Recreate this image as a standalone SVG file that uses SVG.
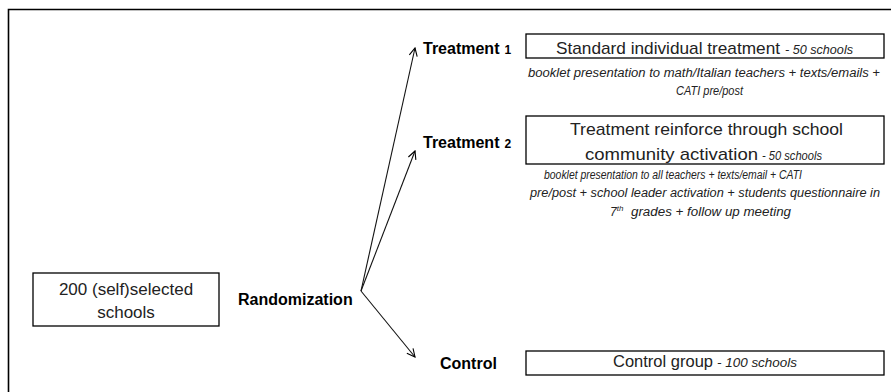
<svg xmlns="http://www.w3.org/2000/svg" width="891" height="392" viewBox="0 0 891 392">
  <defs>
    <marker id="open-arrow" viewBox="0 0 10 10" refX="9" refY="5" markerWidth="10" markerHeight="10" markerUnits="userSpaceOnUse" orient="auto">
      <path d="M1,1 L9,5 L1,9" fill="none" stroke="#000" stroke-width="1.1"/>
    </marker>
    <style>
      .frame { fill: none; stroke: #000; stroke-width: 1.6; }
      .box { fill: #fff; stroke: #000; stroke-width: 1.3; }
      .main { font-family: "Liberation Sans", Arial, sans-serif; font-size: 17px; fill: #222; }
      .label { font-family: "Liberation Sans", Arial, sans-serif; font-size: 16px; font-weight: bold; fill: #000; }
      .num { font-family: "Liberation Sans", Arial, sans-serif; font-size: 12px; fill: #000; }
      .note { font-family: "Liberation Sans", Arial, sans-serif; font-size: 12px; font-style: italic; fill: #222; }
      .conn { fill: none; stroke: #111; stroke-width: 1.1; marker-end: url(#open-arrow); }
    </style>
  </defs>

  <rect width="891" height="392" fill="#fff"/>

  <!-- outer frame: top and left edges -->
  <path class="frame" d="M8.5,392 L8.5,9.5 L891,9.5"/>

  <!-- source -->
  <g id="schools">
    <rect class="box" x="33" y="273" width="186" height="53"/>
    <text class="main" x="126" y="295" text-anchor="middle">200 (self)selected</text>
    <text class="main" x="126" y="318" text-anchor="middle">schools</text>
  </g>

  <g id="randomization">
    <text class="label" x="238" y="305">Randomization</text>
  </g>

  <!-- connectors -->
  <g id="connectors">
    <path class="conn" d="M361,291 L415,48"/>
    <path class="conn" d="M361,291 L415,151"/>
    <path class="conn" d="M361,291 L415,357"/>
  </g>

  <g id="treatment1">
    <text class="label" x="423" y="54">Treatment<tspan class="num" dx="5">1</tspan></text>
    <rect class="box" x="526" y="34" width="358" height="24"/>
    <text class="main" x="556" y="54" textLength="224" lengthAdjust="spacingAndGlyphs">Standard individual treatment</text>
    <text class="note" x="785" y="54" textLength="68" lengthAdjust="spacingAndGlyphs">- 50 schools</text>
    <text class="note" x="528" y="77" textLength="352" lengthAdjust="spacingAndGlyphs">booklet presentation to math/Italian teachers + texts/emails +</text>
    <text class="note" x="676" y="95" textLength="67" lengthAdjust="spacingAndGlyphs">CATI pre/post</text>
  </g>

  <g id="treatment2">
    <text class="label" x="423" y="148">Treatment<tspan class="num" dx="5">2</tspan></text>
    <rect class="box" x="526" y="116" width="358" height="48"/>
    <text class="main" x="570" y="135" textLength="273" lengthAdjust="spacingAndGlyphs">Treatment reinforce through school</text>
    <text class="main" x="585" y="160" textLength="173" lengthAdjust="spacingAndGlyphs">community activation</text>
    <text class="note" x="762" y="160" textLength="60" lengthAdjust="spacingAndGlyphs">- 50 schools</text>
    <text class="note" x="544" y="179" textLength="258" lengthAdjust="spacingAndGlyphs">booklet presentation to all teachers + texts/email + CATI</text>
    <text class="note" x="530" y="197" textLength="350" lengthAdjust="spacingAndGlyphs">pre/post + school leader activation + students questionnaire in</text>
    <text class="note" x="610" y="216">7<tspan font-size="8" dy="-5">th</tspan><tspan dy="5" x="631" textLength="160" lengthAdjust="spacingAndGlyphs">grades + follow up meeting</tspan></text>
  </g>

  <g id="control">
    <text class="label" x="440" y="369">Control</text>
    <rect class="box" x="526" y="351" width="358" height="24"/>
    <text class="main" x="613" y="367" textLength="100" lengthAdjust="spacingAndGlyphs">Control group</text>
    <text class="note" x="717" y="367" textLength="80" lengthAdjust="spacingAndGlyphs">- 100 schools</text>
  </g>
</svg>
